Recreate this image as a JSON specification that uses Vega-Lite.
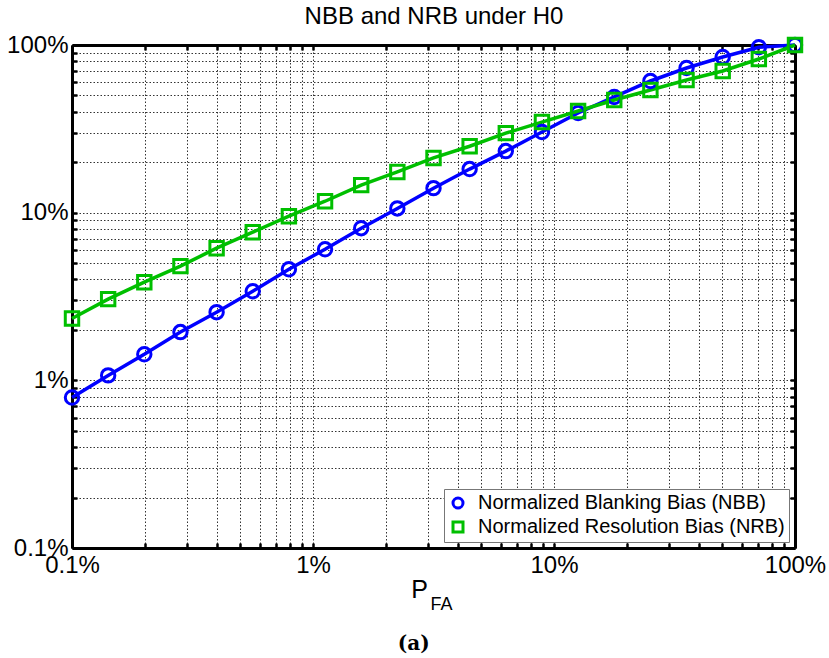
{
  "$schema": "https://vega.github.io/schema/vega-lite/v6.json",
  "width": 723,
  "height": 503,
  "autosize": {"type": "none"},
  "padding": {"left": 72, "top": 45, "right": 34, "bottom": 110},
  "background": "white",
  "title": {
    "text": "FA",
    "orient": "bottom",
    "anchor": "middle",
    "dx": 8,
    "offset": -6,
    "font": "Liberation Sans",
    "fontSize": 18,
    "fontWeight": "normal",
    "color": "black",
    "subtitle": "(a)\u00a0\u00a0\u00a0\u00a0\u00a0\u00a0\u00a0\u00a0\u200b",
    "subtitleFont": "DejaVu Serif",
    "subtitleFontSize": 20,
    "subtitleFontWeight": "bold",
    "subtitleColor": "black",
    "subtitlePadding": 20
  },
  "data": {
    "values": [
      {"pfa": 0.001, "bias": 0.0079, "series": "Normalized Blanking Bias (NBB)"},
      {"pfa": 0.0014125, "bias": 0.0107, "series": "Normalized Blanking Bias (NBB)"},
      {"pfa": 0.0019953, "bias": 0.0143, "series": "Normalized Blanking Bias (NBB)"},
      {"pfa": 0.0028184, "bias": 0.0194, "series": "Normalized Blanking Bias (NBB)"},
      {"pfa": 0.0039811, "bias": 0.0255, "series": "Normalized Blanking Bias (NBB)"},
      {"pfa": 0.0056234, "bias": 0.034, "series": "Normalized Blanking Bias (NBB)"},
      {"pfa": 0.0079433, "bias": 0.046, "series": "Normalized Blanking Bias (NBB)"},
      {"pfa": 0.0112202, "bias": 0.0605, "series": "Normalized Blanking Bias (NBB)"},
      {"pfa": 0.0158489, "bias": 0.0808, "series": "Normalized Blanking Bias (NBB)"},
      {"pfa": 0.0223872, "bias": 0.106, "series": "Normalized Blanking Bias (NBB)"},
      {"pfa": 0.0316228, "bias": 0.14, "series": "Normalized Blanking Bias (NBB)"},
      {"pfa": 0.0446684, "bias": 0.182, "series": "Normalized Blanking Bias (NBB)"},
      {"pfa": 0.0630957, "bias": 0.233, "series": "Normalized Blanking Bias (NBB)"},
      {"pfa": 0.0891251, "bias": 0.303, "series": "Normalized Blanking Bias (NBB)"},
      {"pfa": 0.1258925, "bias": 0.393, "series": "Normalized Blanking Bias (NBB)"},
      {"pfa": 0.1778279, "bias": 0.49, "series": "Normalized Blanking Bias (NBB)"},
      {"pfa": 0.2511886, "bias": 0.61, "series": "Normalized Blanking Bias (NBB)"},
      {"pfa": 0.3548134, "bias": 0.729, "series": "Normalized Blanking Bias (NBB)"},
      {"pfa": 0.5011872, "bias": 0.848, "series": "Normalized Blanking Bias (NBB)"},
      {"pfa": 0.7079458, "bias": 0.97, "series": "Normalized Blanking Bias (NBB)"},
      {"pfa": 1, "bias": 1, "series": "Normalized Blanking Bias (NBB)"},
      {"pfa": 0.001, "bias": 0.0234, "series": "Normalized Resolution Bias (NRB)"},
      {"pfa": 0.0014125, "bias": 0.0305, "series": "Normalized Resolution Bias (NRB)"},
      {"pfa": 0.0019953, "bias": 0.0385, "series": "Normalized Resolution Bias (NRB)"},
      {"pfa": 0.0028184, "bias": 0.048, "series": "Normalized Resolution Bias (NRB)"},
      {"pfa": 0.0039811, "bias": 0.0614, "series": "Normalized Resolution Bias (NRB)"},
      {"pfa": 0.0056234, "bias": 0.0765, "series": "Normalized Resolution Bias (NRB)"},
      {"pfa": 0.0079433, "bias": 0.0953, "series": "Normalized Resolution Bias (NRB)"},
      {"pfa": 0.0112202, "bias": 0.117, "series": "Normalized Resolution Bias (NRB)"},
      {"pfa": 0.0158489, "bias": 0.146, "series": "Normalized Resolution Bias (NRB)"},
      {"pfa": 0.0223872, "bias": 0.175, "series": "Normalized Resolution Bias (NRB)"},
      {"pfa": 0.0316228, "bias": 0.212, "series": "Normalized Resolution Bias (NRB)"},
      {"pfa": 0.0446684, "bias": 0.249, "series": "Normalized Resolution Bias (NRB)"},
      {"pfa": 0.0630957, "bias": 0.298, "series": "Normalized Resolution Bias (NRB)"},
      {"pfa": 0.0891251, "bias": 0.347, "series": "Normalized Resolution Bias (NRB)"},
      {"pfa": 0.1258925, "bias": 0.404, "series": "Normalized Resolution Bias (NRB)"},
      {"pfa": 0.1778279, "bias": 0.47, "series": "Normalized Resolution Bias (NRB)"},
      {"pfa": 0.2511886, "bias": 0.539, "series": "Normalized Resolution Bias (NRB)"},
      {"pfa": 0.3548134, "bias": 0.618, "series": "Normalized Resolution Bias (NRB)"},
      {"pfa": 0.5011872, "bias": 0.7, "series": "Normalized Resolution Bias (NRB)"},
      {"pfa": 0.7079458, "bias": 0.825, "series": "Normalized Resolution Bias (NRB)"},
      {"pfa": 1, "bias": 1, "series": "Normalized Resolution Bias (NRB)"}
    ]
  },
  "resolve": {"axis": {"x": "independent", "y": "independent"}},
  "layer": [
    {
      "mark": {"type": "line", "strokeWidth": 3.5, "clip": false},
      "encoding": {
        "x": {
          "field": "pfa", "type": "quantitative",
          "scale": {"type": "log", "domain": [0.001, 1], "nice": false},
          "axis": {
            "orient": "bottom",
            "values": [0.001,0.002,0.003,0.004,0.005,0.006,0.007,0.008,0.009,0.01,0.02,0.03,0.04,0.05,0.06,0.07,0.08,0.09,0.1,0.2,0.3,0.4,0.5,0.6,0.7,0.8,0.9,1],
            "labelExpr": "datum.value == 0.001 ? '0.1%' : datum.value == 0.01 ? '1%' : datum.value == 0.1 ? '10%' : datum.value == 1 ? '100%' : ''",
            "labelFont": "Liberation Sans", "labelFontSize": 24, "labelColor": "black",
            "labelPadding": 10, "labelFlush": false, "labelOverlap": false,
            "tickSize": -5, "tickWidth": 2.5, "tickColor": "black",
            "domainColor": "black", "domainWidth": 3,
            "grid": true, "gridDash": [1.5, 2], "gridColor": "#333", "gridWidth": 1,
            "title": "P", "titleFont": "Liberation Sans", "titleFontSize": 25,
            "titleFontWeight": "normal", "titleColor": "black", "titleX": 347, "titlePadding": 0
          }
        },
        "y": {
          "field": "bias", "type": "quantitative",
          "scale": {"type": "log", "domain": [0.001, 1], "nice": false},
          "axis": {
            "orient": "left",
            "values": [0.001,0.002,0.003,0.004,0.005,0.006,0.007,0.008,0.009,0.01,0.02,0.03,0.04,0.05,0.06,0.07,0.08,0.09,0.1,0.2,0.3,0.4,0.5,0.6,0.7,0.8,0.9,1],
            "labelExpr": "datum.value == 0.001 ? '0.1%' : datum.value == 0.01 ? '1%' : datum.value == 0.1 ? '10%' : datum.value == 1 ? '100%' : ''",
            "labelFont": "Liberation Sans", "labelFontSize": 24, "labelColor": "black",
            "labelPadding": 9, "labelFlush": false, "labelOverlap": false,
            "tickSize": -5, "tickWidth": 2.5, "tickColor": "black",
            "domainColor": "black", "domainWidth": 3,
            "grid": true, "gridDash": [1.5, 2], "gridColor": "#333", "gridWidth": 1,
            "title": null
          }
        },
        "color": {
          "field": "series", "type": "nominal",
          "scale": {"domain": ["Normalized Blanking Bias (NBB)", "Normalized Resolution Bias (NRB)"], "range": ["#0000ff", "#00bf00"]},
          "legend": {"title": null}
        }
      }
    },
    {
      "mark": {"type": "point", "filled": false, "strokeWidth": 3, "size": 180, "opacity": 1, "clip": false},
      "encoding": {
        "x": {
          "field": "pfa", "type": "quantitative",
          "scale": {"type": "log", "domain": [0.001, 1], "nice": false},
          "axis": {
            "orient": "top",
            "values": [0.001,0.002,0.003,0.004,0.005,0.006,0.007,0.008,0.009,0.01,0.02,0.03,0.04,0.05,0.06,0.07,0.08,0.09,0.1,0.2,0.3,0.4,0.5,0.6,0.7,0.8,0.9,1],
            "labels": false,
            "tickSize": -5, "tickWidth": 2.5, "tickColor": "black",
            "domainColor": "black", "domainWidth": 3,
            "grid": false,
            "title": "NBB and NRB under H0", "titleFont": "Liberation Sans", "titleFontSize": 24,
            "titleFontWeight": "normal", "titleColor": "black", "titlePadding": 15
          }
        },
        "y": {
          "field": "bias", "type": "quantitative",
          "scale": {"type": "log", "domain": [0.001, 1], "nice": false},
          "axis": {
            "orient": "right",
            "values": [0.001,0.002,0.003,0.004,0.005,0.006,0.007,0.008,0.009,0.01,0.02,0.03,0.04,0.05,0.06,0.07,0.08,0.09,0.1,0.2,0.3,0.4,0.5,0.6,0.7,0.8,0.9,1],
            "labels": false,
            "tickSize": -5, "tickWidth": 2.5, "tickColor": "black",
            "domainColor": "black", "domainWidth": 3,
            "grid": false,
            "title": null
          }
        },
        "color": {
          "field": "series", "type": "nominal",
          "scale": {"domain": ["Normalized Blanking Bias (NBB)", "Normalized Resolution Bias (NRB)"], "range": ["#0000ff", "#00bf00"]},
          "legend": {"title": null}
        },
        "shape": {
          "field": "series", "type": "nominal",
          "scale": {"domain": ["Normalized Blanking Bias (NBB)", "Normalized Resolution Bias (NRB)"], "range": ["circle", "square"]},
          "legend": {"title": null}
        }
      }
    }
  ],
  "config": {
    "view": {"stroke": null},
    "legend": {
      "orient": "bottom-right",
      "offset": 6,
      "labelFont": "Liberation Sans",
      "labelFontSize": 20,
      "labelColor": "black",
      "labelLimit": 500,
      "labelOffset": 10,
      "symbolSize": 100,
      "symbolStrokeWidth": 3,
      "padding": 4,
      "rowPadding": 2,
      "strokeColor": "#777",
      "fillColor": "white"
    }
  }
}
